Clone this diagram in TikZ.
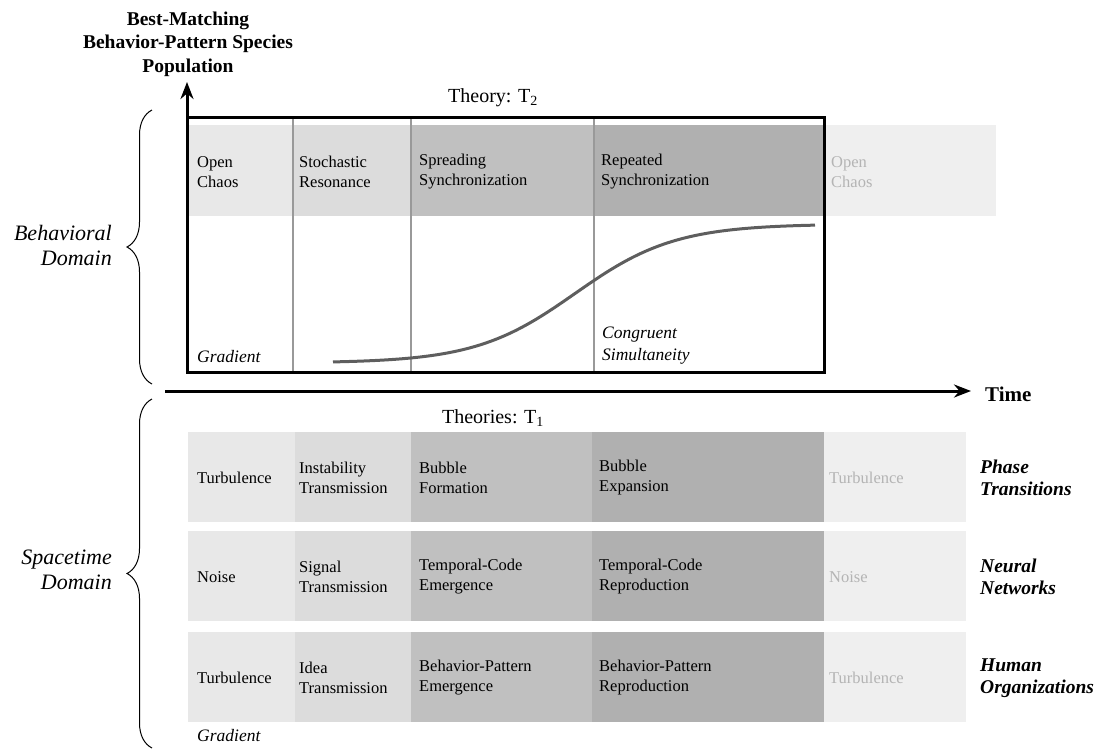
\documentclass[tikz,border=0pt]{standalone}
\usepackage{fontspec}
\setmainfont{Liberation Serif}
\usetikzlibrary{arrows.meta,decorations.pathreplacing}

\definecolor{shadeA}{HTML}{E8E8E8}
\definecolor{shadeB}{HTML}{DCDCDC}
\definecolor{shadeC}{HTML}{C0C0C0}
\definecolor{shadeD}{HTML}{B0B0B0}
\definecolor{shadeE}{HTML}{EFEFEF}
\definecolor{fadetext}{HTML}{B4B4B4}
\definecolor{curvegray}{HTML}{5E5E5E}

\tikzset{
  phase/.style={anchor=west, align=left, inner sep=0pt, font=\fontsize{16.5}{20}\selectfont},
  faded/.style={phase, text=fadetext},
  domainlabel/.style={anchor=east, align=right, inner sep=0pt, font=\fontsize{22}{25}\selectfont\itshape},
  field/.style={anchor=west, align=left, inner sep=0pt, font=\fontsize{19.5}{22}\selectfont\bfseries\itshape},
  note/.style={anchor=west, align=left, inner sep=0pt, font=\fontsize{17.5}{22}\selectfont\itshape},
  axis/.style={line width=3pt, -{Stealth[length=17pt,width=13pt]}},
  divider/.style={line width=1.3pt, draw=gray!80},
  domainbrace/.style={decorate, decoration={brace, amplitude=25pt}, line width=1pt},
}

\begin{document}
\begin{tikzpicture}[x=1pt, y=-1pt]
\useasboundingbox (0,0) rectangle (1098,750);

% behavioral band
\fill[shadeA] (188,125) rectangle (293,216);
\fill[shadeB] (293,125) rectangle (411,216);
\fill[shadeC] (411,125) rectangle (594,216);
\fill[shadeD] (594,125) rectangle (824,216);
\fill[shadeE] (824,125) rectangle (996,216);

% spacetime rows
\foreach \y in {432,531,632} {
  \fill[shadeA] (188,\y) rectangle (295,\y+90);
  \fill[shadeB] (295,\y) rectangle (411,\y+90);
  \fill[shadeC] (411,\y) rectangle (592,\y+90);
  \fill[shadeD] (592,\y) rectangle (824,\y+90);
  \fill[shadeE] (824,\y) rectangle (966,\y+90);
}

% dividers and frame
\foreach \x in {293,411,594}
  \draw[divider] (\x,117) -- (\x,372);
\draw[line width=3pt] (187,117) rectangle (824,372);

% axes
\coordinate (origin) at (187,373);
\coordinate (ytip) at (187,82);
\coordinate (tstart) at (165,391);
\coordinate (ttip) at (971,391);
\draw[axis] (origin) -- (ytip);
\draw[axis] (tstart) -- (ttip);

\node[align=center, inner sep=0pt, font=\fontsize{19.5}{23.5}\selectfont\bfseries] (ylabel) at (188,44)
  {Best-Matching\\Behavior-Pattern Species\\Population};
\node[anchor=west, inner sep=0pt, font=\fontsize{21}{24}\selectfont\bfseries] (tlabel) at (985,394) {Time};

% population curve
\draw[curvegray, line width=3pt] plot[domain=333:815, samples=80, smooth]
  (\x, {363-139/(1+exp(-(\x-575)/50))});

\node[inner sep=0pt, font=\fontsize{20}{24}\selectfont] (theory2) at (493,98) {Theory: T\textsubscript{2}};
\node[inner sep=0pt, font=\fontsize{20}{24}\selectfont] (theory1) at (493,418) {Theories: T\textsubscript{1}};

\node[phase] (chaosA) at (197,172) {Open\\Chaos};
\node[phase] (resonance) at (299,172) {Stochastic\\Resonance};
\node[phase] (spreading) at (419,172) {Spreading\\Synchronization};
\node[phase] (repeated) at (601,172) {Repeated\\Synchronization};
\node[faded] (chaosB) at (831,172) {Open\\Chaos};
\node[note] (gradA) at (197,357) {Gradient};
\node[note] (congruent) at (602,346) {Congruent\\Simultaneity};

\node[phase] (turbA) at (197,478) {Turbulence};
\node[phase] (instab) at (299,478) {Instability\\Transmission};
\node[phase] (bubbleF) at (419,478) {Bubble\\Formation};
\node[phase] (bubbleE) at (599,478) {Bubble\\Expansion};
\node[faded] (turbB) at (829,478) {Turbulence};
\node[field] (phasetr) at (980,478) {Phase\\Transitions};

\node[phase] (noiseA) at (197,577) {Noise};
\node[phase] (signal) at (299,577) {Signal\\Transmission};
\node[phase] (codeE) at (419,577) {Temporal-Code\\Emergence};
\node[phase] (codeR) at (599,577) {Temporal-Code\\Reproduction};
\node[faded] (noiseB) at (829,577) {Noise};
\node[field] (neural) at (980,577) {Neural\\Networks};

\node[phase] (turbC) at (197,678) {Turbulence};
\node[phase] (idea) at (299,678) {Idea\\Transmission};
\node[phase] (patternE) at (419,678) {Behavior-Pattern\\Emergence};
\node[phase] (patternR) at (599,678) {Behavior-Pattern\\Reproduction};
\node[faded] (turbD) at (829,678) {Turbulence};
\node[field] (human) at (980,678) {Human\\Organizations};
\node[note] (gradB) at (197,736) {Gradient};

% domains
\draw[domainbrace] (152,384) -- (152,110);
\draw[domainbrace] (152,748) -- (152,399);
\node[domainlabel] (behav) at (112,245) {Behavioral\\Domain};
\node[domainlabel] (space) at (112,570) {Spacetime\\Domain};
\end{tikzpicture}
\end{document}
